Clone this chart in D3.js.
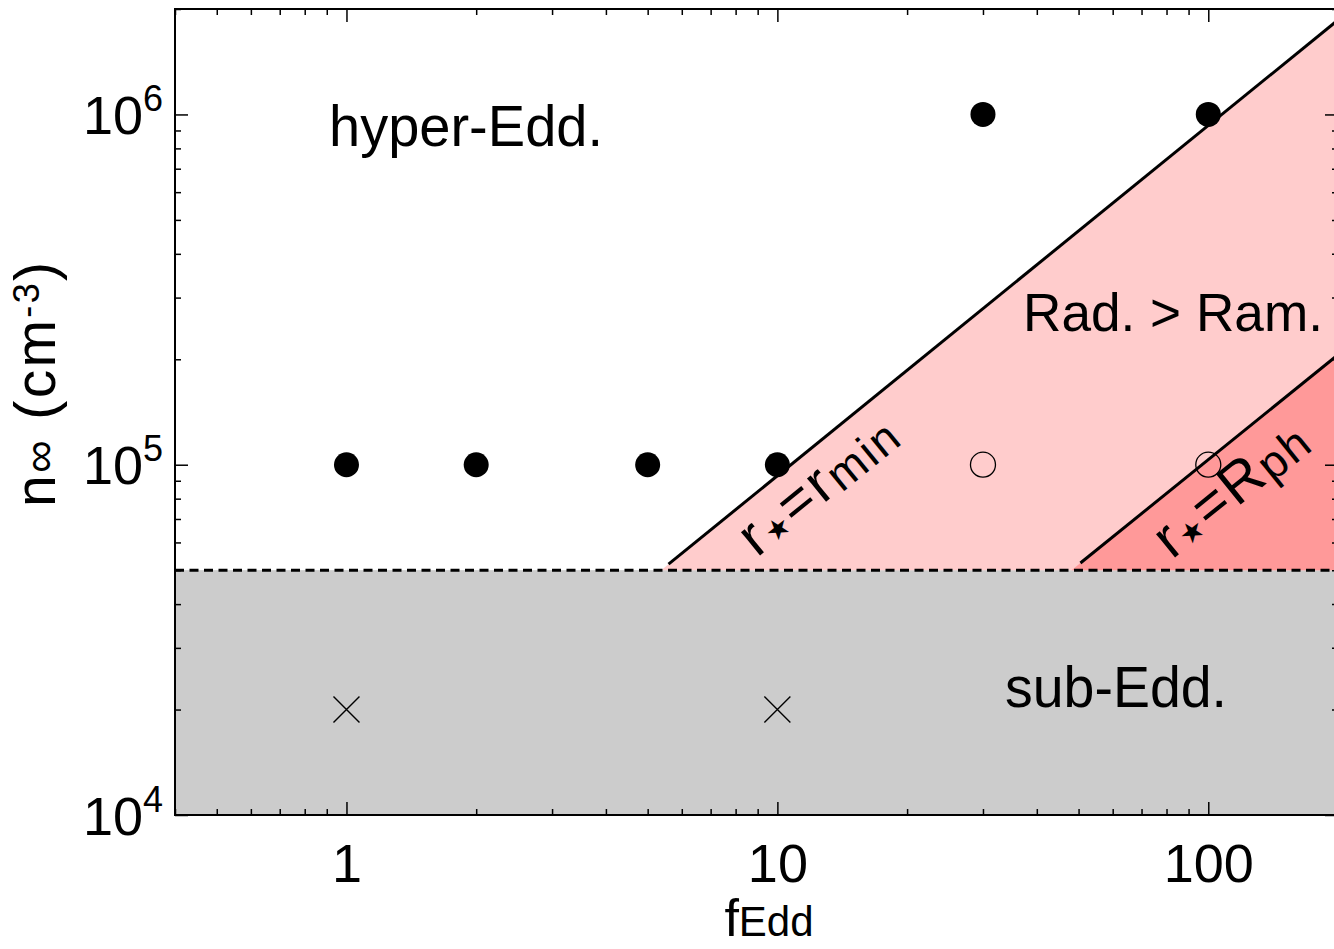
<!DOCTYPE html>
<html>
<head>
<meta charset="utf-8">
<script src="https://cdn.jsdelivr.net/npm/d3@7"></script>
<style>
  body { margin: 0; background: #fff; }
  svg { display: block; font-family: "Liberation Sans", Arial, Helvetica, sans-serif; }
</style>
</head>
<body>
<svg width="1334" height="949"></svg>
<script>
// data
const fDomain = [0.4, 200];
const nDomain = [1e4, 2e6];
const xMajorTicks = [1, 10, 100];
const yMajorTicks = [1e4, 1e5, 1e6];
const yTickExponents = ['4', '5', '6'];

const hyperF = [1, 2, 5, 10, 30, 100];
const hyperN = [1e5, 1e5, 1e5, 1e5, 1e6, 1e6];
const openF = [30, 100];
const openN = [1e5, 1e5];
const subF = [1, 10];
const subN = [2e4, 2e4];

const subEddLimit = 5e4;
const rminLine = [[5.59, 5.2e4], [200, 1.86e6]];
const rphLine = [[50.5, 5.24e4], [200, 2.06e5]];

const svg = d3.select('svg');
const margins = { top: 9, left: 175, bottom: 815, right: 1338 };

const xScale = d3.scaleLog().domain(fDomain).range([margins.left, margins.right]);
const yScale = d3.scaleLog().domain(nDomain).range([margins.bottom, margins.top]);

svg.append('clipPath').attr('id', 'plot-clip')
  .append('rect')
    .attr('x', margins.left).attr('y', margins.top)
    .attr('width', margins.right - margins.left)
    .attr('height', margins.bottom - margins.top);

const plot = svg.append('g').attr('clip-path', 'url(#plot-clip)');

// f where a boundary line meets the sub-Eddington limit (log-linear extension)
const footOf = line => {
  const [[f0, n0], [f1, n1]] = line;
  const slope = (Math.log10(n1) - Math.log10(n0)) / (Math.log10(f1) - Math.log10(f0));
  return Math.pow(10, Math.log10(f0) - (Math.log10(n0) - Math.log10(subEddLimit)) / slope);
};

const toPx = d => [xScale(d[0]), yScale(d[1])];

// grey sub-Edd region
plot.append('rect')
  .attr('x', xScale(fDomain[0]))
  .attr('y', yScale(subEddLimit))
  .attr('width', xScale(fDomain[1]) - xScale(fDomain[0]))
  .attr('height', yScale(nDomain[0]) - yScale(subEddLimit))
  .attr('fill', '#cccccc');

const regionOf = line => [
  [footOf(line), subEddLimit],
  ...line,
  [fDomain[1], subEddLimit]
].map(toPx);

plot.append('polygon')
  .attr('points', regionOf(rminLine).join(' '))
  .attr('fill', '#ffcccc');
plot.append('polygon')
  .attr('points', regionOf(rphLine).join(' '))
  .attr('fill', '#ff9999');

// dashed sub-Edd boundary
plot.append('line')
  .attr('x1', xScale(fDomain[0])).attr('x2', xScale(fDomain[1]))
  .attr('y1', yScale(subEddLimit)).attr('y2', yScale(subEddLimit))
  .attr('stroke', '#000').attr('stroke-width', 3)
  .attr('stroke-dasharray', '9,5.5');

const lineGen = d3.line().x(d => xScale(d[0])).y(d => yScale(d[1]));
[rminLine, rphLine].forEach(line => {
  plot.append('path')
    .attr('d', lineGen(line))
    .attr('fill', 'none')
    .attr('stroke', '#000')
    .attr('stroke-width', 3);
});

// points
plot.selectAll('circle.hyper')
  .data(d3.zip(hyperF, hyperN))
  .enter()
  .append('circle')
    .attr('class', 'hyper')
    .attr('cx', d => xScale(d[0]))
    .attr('cy', d => yScale(d[1]))
    .attr('r', 12.5)
    .attr('fill', '#000');

plot.selectAll('circle.open')
  .data(d3.zip(openF, openN))
  .enter()
  .append('circle')
    .attr('class', 'open')
    .attr('cx', d => xScale(d[0]))
    .attr('cy', d => yScale(d[1]))
    .attr('r', 12.5)
    .attr('fill', 'none')
    .attr('stroke', '#000')
    .attr('stroke-width', 1.3);

const crossSize = 13;
plot.selectAll('path.cross')
  .data(d3.zip(subF, subN))
  .enter()
  .append('path')
    .attr('class', 'cross')
    .attr('transform', d => `translate(${xScale(d[0])}, ${yScale(d[1])})`)
    .attr('d', `M${-crossSize},${-crossSize}L${crossSize},${crossSize}M${-crossSize},${crossSize}L${crossSize},${-crossSize}`)
    .attr('stroke', '#000')
    .attr('stroke-width', 1.4);

// axes (ticks inward, on all four sides)
const minorX = xScale.ticks().filter(v => !xMajorTicks.includes(v));
const minorY = yScale.ticks().filter(v => !yMajorTicks.includes(v));

const addAxis = (axis, transform) => {
  const g = svg.append('g').attr('transform', transform);
  g.call(axis);
  g.select('path.domain').remove();
  g.selectAll('line').attr('stroke', '#000').attr('stroke-width', 1.5);
  return g;
};

const bottomMajor = addAxis(
  d3.axisBottom(xScale).tickValues(xMajorTicks).tickSize(-13).tickPadding(29).tickFormat(d3.format('d')),
  `translate(0, ${margins.bottom})`);
bottomMajor.selectAll('text')
  .attr('font-size', 54)
  .attr('font-family', '"Liberation Sans", Arial, sans-serif')
  .attr('fill', '#000');
addAxis(d3.axisBottom(xScale).tickValues(minorX).tickSize(-6).tickFormat(''),
  `translate(0, ${margins.bottom})`);
addAxis(d3.axisTop(xScale).tickValues(xMajorTicks).tickSize(-13).tickFormat(''),
  `translate(0, ${margins.top})`);
addAxis(d3.axisTop(xScale).tickValues(minorX).tickSize(-6).tickFormat(''),
  `translate(0, ${margins.top})`);

const leftMajor = addAxis(
  d3.axisLeft(yScale).tickValues(yMajorTicks).tickSize(-13).tickPadding(12).tickFormat(() => ''),
  `translate(${margins.left}, 0)`);
leftMajor.selectAll('text')
  .attr('font-size', 54)
  .attr('font-family', '"Liberation Sans", Arial, sans-serif')
  .attr('fill', '#000')
  .attr('dy', 19)
  .each(function (d, i) {
    const t = d3.select(this);
    t.append('tspan').text('10');
    t.append('tspan').attr('font-size', 36).attr('dy', -23).text(yTickExponents[i]);
  });
addAxis(d3.axisLeft(yScale).tickValues(minorY).tickSize(-6).tickFormat(''),
  `translate(${margins.left}, 0)`);
addAxis(d3.axisRight(yScale).tickValues(yMajorTicks).tickSize(-13).tickFormat(''),
  `translate(${margins.right}, 0)`);
addAxis(d3.axisRight(yScale).tickValues(minorY).tickSize(-6).tickFormat(''),
  `translate(${margins.right}, 0)`);

// frame
svg.append('rect')
  .attr('x', margins.left).attr('y', margins.top)
  .attr('width', margins.right - margins.left)
  .attr('height', margins.bottom - margins.top)
  .attr('fill', 'none')
  .attr('stroke', '#000')
  .attr('stroke-width', 2);

// axis titles
const xTitle = svg.append('text')
  .attr('x', 769).attr('y', 936)
  .attr('text-anchor', 'middle')
  .attr('font-size', 52);
xTitle.append('tspan').text('f');
xTitle.append('tspan').attr('font-size', 42).text('Edd');

const yTitle = svg.append('text')
  .attr('transform', 'translate(55, 507) rotate(-90)')
  .attr('font-size', 57)
  .attr('textLength', 245)
  .attr('lengthAdjust', 'spacing');
yTitle.append('tspan').text('n');
yTitle.append('tspan').attr('font-size', 46).text('∞');
yTitle.append('tspan').text(' (cm');
yTitle.append('tspan').attr('font-size', 36).attr('dy', -16).text('-3');
yTitle.append('tspan').attr('dy', 16).text(')');

// region labels
const label = (txt, x, y, size, len) => svg.append('text')
  .attr('x', x).attr('y', y)
  .attr('font-size', size)
  .attr('textLength', len)
  .attr('lengthAdjust', 'spacingAndGlyphs')
  .text(txt);

label('hyper-Edd.', 329, 146, 58, 274);
label('Rad. > Ram.', 1023, 331, 53, 300);
label('sub-Edd.', 1005, 707, 58, 222);

// rotated boundary labels
const angleOf = line => {
  const [p0, p1] = line.map(toPx);
  return Math.atan2(p1[1] - p0[1], p1[0] - p0[0]) * 180 / Math.PI;
};

const boundaryLabel = (line, x, y, main, sub, len) => {
  const t = svg.append('text')
    .attr('transform', `translate(${x}, ${y}) rotate(${angleOf(line)})`)
    .attr('font-size', 57)
    .attr('textLength', len)
    .attr('lengthAdjust', 'spacing');
  t.append('tspan').text('r');
  t.append('tspan').attr('font-size', 28).text('★');
  t.append('tspan').text('=' + main);
  t.append('tspan').attr('font-size', 46).attr('dy', 3).text(sub);
};

boundaryLabel(rminLine, 757, 558, 'r', 'min', 186);
boundaryLabel(rphLine, 1172, 560, 'R', 'ph', 180);
</script>
</body>
</html>
